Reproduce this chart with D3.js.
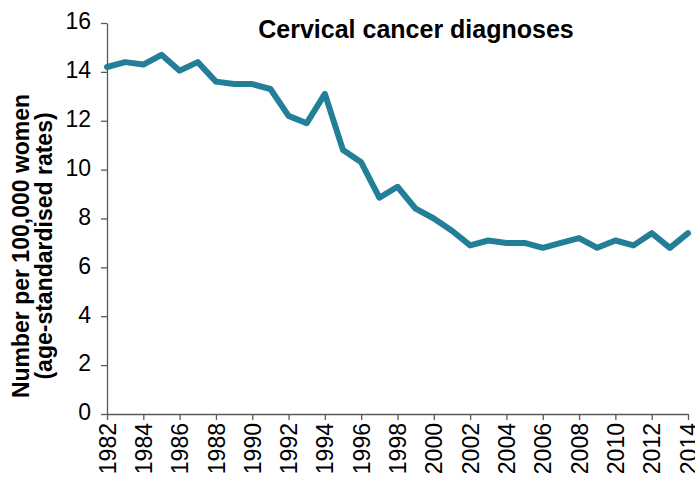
<!DOCTYPE html>
<html>
<head>
<meta charset="utf-8">
<script src="https://cdn.jsdelivr.net/npm/d3@7"></script>
<style>
  body { margin: 0; background: #fff; }
  text { font-family: "Liberation Sans", Arial, sans-serif; }
</style>
</head>
<body>
<div id="chart"></div>
<script>
// data
const years = d3.range(1982, 2015);
const rates = [14.2, 14.4, 14.3, 14.7, 14.05, 14.4, 13.6, 13.5, 13.5, 13.3,
               12.2, 11.9, 13.1, 10.8, 10.3, 8.85, 9.3, 8.4, 8.0, 7.5,
               6.9, 7.1, 7.0, 7.0, 6.8, 7.0, 7.2, 6.8, 7.1, 6.9,
               7.4, 6.8, 7.4];
const yTicks = [0, 2, 4, 6, 8, 10, 12, 14, 16];
const xTicks = d3.range(1982, 2015, 2);

const width = 695, height = 485;
const margin = {top: 23, right: 7, bottom: 71, left: 107};
const innerW = width - margin.left - margin.right;
const innerH = height - margin.top - margin.bottom;
const axisColor = "#595959";

const svg = d3.select("#chart").append("svg")
    .attr("width", width)
    .attr("height", height);

const g = svg.append("g")
    .attr("transform", `translate(${margin.left},${margin.top})`);

const x = d3.scaleLinear().domain([1982, 2014]).range([0, innerW]);
const y = d3.scaleLinear().domain([0, 16]).range([innerH, 0]);

// y axis
const yAxis = g.append("g")
    .call(d3.axisLeft(y).tickValues(yTicks).tickSizeInner(6).tickSizeOuter(0).tickPadding(10));
yAxis.select(".domain").attr("stroke", axisColor).attr("stroke-width", 1.3);
yAxis.selectAll(".tick line").attr("stroke", axisColor).attr("stroke-width", 1.3);
yAxis.selectAll(".tick text")
    .attr("font-size", 23)
    .attr("fill", "#000")
    .attr("dy", "0.25em");

// x axis
const xAxis = g.append("g")
    .attr("transform", `translate(0,${innerH})`)
    .call(d3.axisBottom(x).tickValues(xTicks).tickFormat(d3.format("d")).tickSizeInner(6).tickSizeOuter(0));
xAxis.select(".domain").attr("stroke", axisColor).attr("stroke-width", 1.3);
xAxis.selectAll(".tick line").attr("stroke", axisColor).attr("stroke-width", 1.3);
xAxis.selectAll(".tick text")
    .attr("font-size", 23)
    .attr("fill", "#000")
    .attr("text-anchor", "end")
    .attr("transform", "rotate(-90)")
    .attr("x", -9)
    .attr("y", 0)
    .attr("dy", "0.35em");

// the line
const line = d3.line()
    .x((d, i) => x(years[i]))
    .y(d => y(d));

g.append("path")
    .datum(rates)
    .attr("fill", "none")
    .attr("stroke", "#237F97")
    .attr("stroke-width", 6)
    .attr("stroke-linejoin", "round")
    .attr("stroke-linecap", "round")
    .attr("d", line);

// title
svg.append("text")
    .attr("x", 416)
    .attr("y", 38)
    .attr("text-anchor", "middle")
    .attr("font-size", 25)
    .attr("font-weight", "bold")
    .text("Cervical cancer diagnoses");

// y label, two lines
const yLab = svg.append("text")
    .attr("transform", "translate(29,246) rotate(-90)")
    .attr("text-anchor", "middle")
    .attr("font-size", 23)
    .attr("font-weight", "bold");
yLab.append("tspan").attr("x", 0).attr("y", 0).text("Number per 100,000 women");
yLab.append("tspan").attr("x", 0).attr("y", 23).text("(age-standardised rates)");
</script>
</body>
</html>
